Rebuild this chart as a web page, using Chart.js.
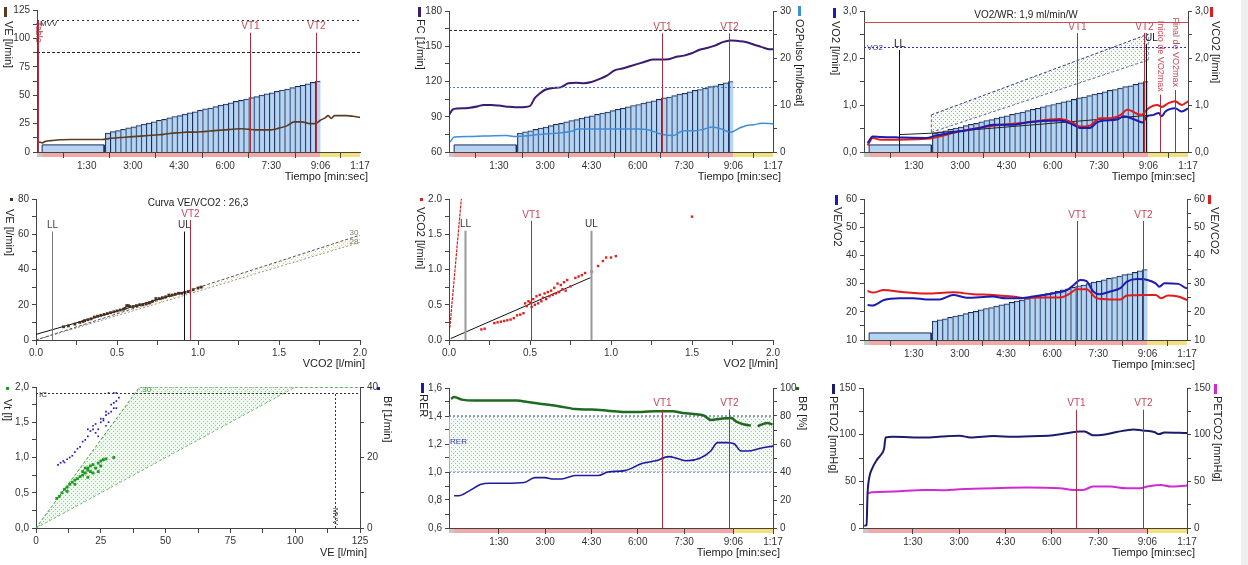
<!DOCTYPE html>
<html><head><meta charset="utf-8">
<script src="https://cdn.jsdelivr.net/npm/chart.js"></script>
<style>
html,body{margin:0;padding:0;background:#fff;}
body{width:1248px;height:565px;position:relative;overflow:hidden;}
#strip{position:absolute;left:1241px;top:0;width:7px;height:565px;background:#eeeeee;}
canvas{position:absolute;}
</style></head><body><div id="strip"></div>
<script>
// ================= DATA =================
const timeTickValues = [90,180,270,360,450,546,623];
const timeTickLabels = ['1:30','3:00','4:30','6:00','7:30','9:06','1:17'];
const phaseStarts = [-7,3,546];
const phaseEnds   = [3,546,623];
const vtTimes  = [408,537];
const vtLabels = ['VT1','VT2'];

// work-rate steps (W)
const warmupT = [3,124];
const warmupW = 15;
const loadT = [131,141,151,161,171,181,191,201,211,221,231,241,251,261,271,281,291,301,311,321,331,341,351,361,371,381,391,401,411,421,431,441,451,461,471,481,491,501,511,521,531,541];
const loadW = [40,43,45,48,51,53,56,59,61,64,67,69,72,75,77,80,83,85,88,91,93,96,99,101,104,107,109,112,115,117,120,123,125,128,131,133,136,139,141,144,147,150];

// Panel 1: VE
const veT = [-7,0,3,10,20,40,60,90,120,135,150,165,180,195,210,225,240,255,270,285,300,315,330,345,360,375,390,405,420,435,450,465,480,495,510,525,536,546,555,561,567,573,585,596,609,623];
const veV = [9,8.5,8,9.5,10,10.8,11,11,11,12,12.5,13,13.5,14,14.5,15,15.5,16.5,17,17.5,17.5,17.8,18.5,19,19.5,20,20.5,20,19.5,19.5,19.5,21,23,26.5,26.5,25,25,28,30,32,29.5,32,32,32,31.5,30.5];
const mvvLine = 116;
const veLimitLine = 88;
const tableMarkT = -6;

// Panel 2: FC and O2 pulse
const fcT = [-6,0,10,30,50,60,75,90,110,130,150,160,170,180,195,210,225,240,255,270,285,300,315,330,345,360,375,390,405,420,435,450,465,480,495,510,525,540,555,570,585,600,615,623];
const fcV = [92,96,97,97.5,99,100,100,99.5,98.5,98,99,106,110,113,114.5,115,118.5,119,118.5,119.5,122,125,129.5,131,133,135,137,138.8,138.8,139,141,142,144,147,148.5,150.5,153.5,155,154.5,153.7,151.5,149.5,147.5,147.5];
const o2pT = [-5,3,30,60,105,119,150,173,200,231,244,270,300,330,360,382,400,409,429,449,470,490,505,525,540,558,570,585,602,623];
const o2pV = [2.1,3.2,3.3,3.4,3.5,3.3,3.5,3.8,4.0,4.4,4.9,4.9,4.9,4.9,4.9,4.7,4.0,3.7,3.5,4.5,4.5,4.9,5.3,4.8,4.2,5.1,5.6,5.8,6.1,6.0];
const fcMaxLine = 164;
const o2pPredLine = 13.8;

// Panel 3: VO2 / VCO2
const vo2T = [0,10,26,60,114,133,180,218,244,283,309,341,374,400,413,432,446,459,485,498,519,535,543,556,566,572,579,598,611,623];
const vo2V = [0.19,0.33,0.32,0.31,0.30,0.35,0.44,0.51,0.58,0.58,0.63,0.66,0.67,0.58,0.51,0.51,0.63,0.67,0.69,0.76,0.69,0.63,0.76,0.79,0.83,0.76,0.86,0.93,0.86,0.93];
const vco2T = [0,10,26,114,180,244,309,374,400,413,432,452,472,492,505,532,546,563,572,585,598,611,623];
const vco2V = [0.14,0.30,0.26,0.28,0.44,0.56,0.63,0.70,0.62,0.54,0.56,0.72,0.72,0.79,0.90,0.79,0.93,1.00,0.96,1.04,1.08,1.00,1.08];
const vo2BandT  = [124,546];
const vo2BandHi = [0.79,2.51];
const vo2BandLo = [0.42,1.96];
const vo2TrendT = [61,124,546];
const vo2TrendV = [0.37,0.40,0.78];
const vo2WrLine = 2.77;
const vo2PeakLine = 2.24;
const llTime = 61, ulTime = 541, vo2maxStartT = 569, vo2maxEndT = 598;

// Panel 4: VE vs VCO2
const p4VCO2 = [0.17,0.20,0.24,0.27,0.29,0.30,0.32,0.34,0.36,0.38,0.40,0.42,0.44,0.46,0.48,0.50,0.52,0.54,0.55,0.56,0.57,0.58,0.60,0.62,0.64,0.66,0.68,0.70,0.72,0.74,0.76,0.78,0.80,0.82,0.84,0.86,0.88,0.90,0.92,0.94,0.97,1.00,1.02];
const p4VE   = [7.5,8,9,10,10.5,11,11.5,12,13,13.5,14,14.5,15,15.5,16,16.5,17,17.5,18,19.5,19.5,19,19,19.5,20,20,20.5,21,22,23.5,23.5,24,24.5,25.5,25.5,26,26.5,26.5,27,27.5,28.5,29.5,30];
const p4RegX = [0,0.92];
const p4RegY = [3.2,27.4];
const p4BandX = [0,2];
const p4BandHi = [0,59.5];
const p4BandLo = [0,55.5];
const p4LL = 0.1, p4UL = 0.916, p4VT2 = 0.953;

// Panel 5: VCO2 vs VO2
const p5VO2  = [0.20,0.22,0.28,0.30,0.32,0.34,0.36,0.38,0.40,0.42,0.44,0.46,0.47,0.48,0.49,0.50,0.51,0.52,0.53,0.54,0.55,0.56,0.57,0.58,0.59,0.60,0.61,0.62,0.63,0.64,0.65,0.66,0.67,0.68,0.69,0.70,0.71,0.72,0.73,0.75,0.78,0.80,0.82,0.84,0.88,0.92,0.95,0.97,1.00,1.03,1.50];
const p5VCO2 = [0.15,0.16,0.24,0.25,0.26,0.27,0.28,0.29,0.31,0.35,0.36,0.38,0.52,0.48,0.55,0.53,0.47,0.58,0.50,0.62,0.52,0.64,0.55,0.60,0.66,0.58,0.68,0.62,0.70,0.64,0.74,0.66,0.80,0.68,0.78,0.72,0.82,0.70,0.85,0.76,0.88,0.90,0.92,0.95,0.97,1.05,1.12,1.17,1.17,1.19,1.75];
const p5SteepX = [0.005,0.076];
const p5SteepY = [0.17,2.0];
const p5LineX = [0.01,0.874];
const p5LineY = [0.02,0.885];
const p5LL = 0.1, p5VT1 = 0.504, p5UL = 0.874;

// Panel 6: VE/VO2, VE/VCO2
const veqo2T = [0,10,32,63,89,115,141,167,193,244,270,296,322,363,389,402,415,427,440,453,473,493,506,526,546,562,569,579,606,619,623];
const veqo2V = [22.4,22.2,24.2,24.8,24.8,24.4,24.4,26,25,25.4,24.8,24.8,25.4,26.6,27.7,29.5,31.3,30.9,27.2,26.2,27.2,28.4,30.7,31.6,31.3,30.1,28.9,30.1,29.9,28.6,28.3];
const veqco2T = [0,10,32,63,115,167,206,244,283,309,335,376,395,408,427,447,473,493,506,540,562,572,586,606,623];
const veqco2V = [27.4,26.8,27.7,27.1,26.5,26.9,26.2,26,25.4,24.8,25.1,25.1,26.5,28,28,24.8,24.4,24.4,25.8,26,26,24.8,25.8,25.4,24.2];

// Panel 7: Vt and Bf vs VE
const vtVE = [8,9,10,11,12,13,14,15,16,17,18,19,20,20,21,22,23,24,25,26,27,22,24,25,30,20,18,15,12,19,21];
const vtV  = [0.42,0.45,0.5,0.55,0.58,0.62,0.65,0.68,0.7,0.73,0.75,0.78,0.82,0.85,0.88,0.9,0.85,0.92,0.95,0.97,0.98,0.78,0.8,0.88,1.0,0.72,0.8,0.62,0.52,0.85,0.8];
const bfVE = [8.5,9.5,10.5,11,12,13,14,15,16,17,18,19,20,20,21,22,22,23,24,25,25,26,27,27,28,28,29,30,30,31,31,32,30,29,26,24,23,27,28,31];
const bfV  = [17.9,18.5,19,18.6,19.5,20,20.5,21.5,22.5,23,24.5,25,26,28,27.5,28,29,27,28,30,31,31,29,32,32.5,30,33,34,35.5,34,36,37,38.3,35,30.5,26,29.5,33,38.3,38.3];
const p7BandAX = [0,40,125], p7BandAY = [0,2,2];
const p7BandBX = [0,100,125], p7BandBY = [0,2,2];
const icLine = 1.91, mvvVE = 115.4;

// Panel 8: RER and BR
const rerT = [3,12,30,54,71,104,139,160,180,193,212,238,264,283,302,335,368,395,421,434,455,482,502,515,535,548,561,574,599,623];
const rerV = [0.83,0.83,0.86,0.91,0.92,0.92,0.925,0.96,0.96,0.95,0.95,0.975,0.975,0.975,1.0,1.01,1.06,1.08,1.11,1.10,1.08,1.10,1.15,1.21,1.21,1.20,1.15,1.15,1.17,1.185];
const brT = [-3,3,18,42,71,125,146,173,206,238,270,302,335,368,395,428,448,468,488,502,522,542,551,567,580,586,593,612,622];
const brV = [92.2,93.6,91.7,91,91,91,90,88.6,87,85,84.6,83.8,82.9,82.9,83.4,83.4,82.2,81.5,80.5,77.2,78.1,78.6,76.2,73.9,73.2,null,72.7,75,73.9];
const rerBandT = [-7,623];
const rerBandHi = 1.4, rerBandLo = 1.0;

// Panel 9: PETO2 / PETCO2
const peto2T = [-4.5,0,1.7,4.8,11,20,30,34,37,51,114,146,181,202,247,285,336,363,389,415,424,440,460,486,519,536,559,569,579,623];
const peto2V = [2.5,3,35,53,64,73,80,85,97,97.7,97,98,98.8,97,98.5,97.7,98.5,99.4,101.5,103.5,103.5,99.4,100,102.8,105.6,104.5,102.8,100.6,102.4,101.7];
const petco2T = [1.7,11,51,114,146,181,247,311,376,402,421,440,473,506,532,546,572,592,623];
const petco2V = [37.2,38.3,39,40.8,40.5,41.5,42.6,43.3,42.6,40.8,40.8,44.4,44.4,42.6,42.6,44.4,46.2,44.4,45.5];

// ================= STYLE / LAYOUT =================
const FONT = "'Liberation Sans Narrow','Liberation Sans',Arial,sans-serif";
Chart.defaults.font.family = FONT;
Chart.defaults.font.size = 10;
Chart.defaults.color = '#333';
const PHASE_COLORS = ['#c8c8c8','#f0a9a6','#f3e07a'];
const VT_COLOR = '#a8303e', VT_LABEL = '#c84858';
const BAR_FILL = 'rgba(168,205,240,0.85)', BAR_EDGE = '#1a2a58';

const PANELS = {
  c1:{rect:[0,0,410,188],   area:[37,360,10,152]},
  c2:{rect:[410,0,418,188], area:[39,363,11,152]},
  c3:{rect:[828,0,413,188], area:[36,360,11,152]},
  c4:{rect:[0,188,410,190], area:[36,360,11,152]},
  c5:{rect:[410,188,418,190], area:[39,363,11,152]},
  c6:{rect:[828,188,413,190], area:[36,359,11,152]},
  c7:{rect:[0,378,410,187], area:[36,360,9,150]},
  c8:{rect:[410,378,418,187], area:[39,363,10,150]},
  c9:{rect:[828,378,413,187], area:[35,359,10,150]}
};

// ================= HELPERS =================
const xy = (xs, ys) => xs.map((x,i)=>({x, y: ys[i]}));
const isMult = (v,s) => Math.abs(v/s - Math.round(v/s)) < 1e-6;
const fInt = v => String(Math.round(v));
const fComma = v => v.toFixed(1).replace('.', ',');
const fDot = v => v.toFixed(1);

function dots(color, bg){
  const c = document.createElement('canvas'); c.width = 4; c.height = 4;
  const g = c.getContext('2d');
  if (bg){ g.fillStyle = bg; g.fillRect(0,0,4,4); }
  g.fillStyle = color; g.fillRect(1,1,1,1); g.fillRect(3,3,1,1);
  return g.createPattern(c,'repeat');
}

function yAxis(pos,min,max,step,every,fmt){
  return {type:'linear', position:pos, min, max,
    ticks:{stepSize:step, autoSkip:false, padding:3, color:'#333', font:{size:10}, callback:v=>isMult(v,every)?fmt(v):''},
    grid:{drawOnChartArea:false, tickLength:4, color:'#444'},
    border:{color:'#444'}};
}
function xAxis(min,max,step,every,fmt){
  return {type:'linear', position:'bottom', min, max,
    ticks:{stepSize:step, autoSkip:false, maxRotation:0, padding:2, color:'#333', font:{size:10}, callback:v=>isMult(v,every)?fmt(v):''},
    grid:{drawOnChartArea:false, tickLength:5, color:'#444'},
    border:{color:'#444'}};
}
function timeAxis(){
  return {type:'linear', position:'bottom', min:-7, max:623, offset:false,
    afterBuildTicks: s => { s.ticks = timeTickValues.map(v=>({value:v})); },
    ticks:{autoSkip:false, maxRotation:0, padding:2, color:'#333', font:{size:10}, callback:(v,i)=>timeTickLabels[i]},
    grid:{drawOnChartArea:false, tickLength:6, color:'#444'},
    border:{color:'#444'}};
}
const wAxis = () => ({type:'linear', display:false, min:0, max:300});

function lineDS(data, color, axis, w){
  return {type:'line', data, borderColor:color, backgroundColor:color, borderWidth:w||1.5, pointRadius:0,
    cubicInterpolationMode:'monotone', yAxisID:axis||'y', fill:false, order:1};
}
function straightDS(data, color, axis, w, dash, extra){
  return Object.assign({type:'line', data, borderColor:color, backgroundColor:'rgba(0,0,0,0)', borderWidth:w||1, borderDash:dash||[],
    pointRadius:0, tension:0, yAxisID:axis||'y', fill:false, order:3}, extra||{});
}
function pointsDS(data, color, axis, r){
  return {type:'line', data, showLine:false, pointStyle:'rect', pointRadius:r||1.5, pointBorderWidth:0,
    pointBackgroundColor:color, borderColor:color, backgroundColor:color, yAxisID:axis||'y', order:2};
}
function loadDatasets(){
  return [
    {type:'line', data:[{x:warmupT[0],y:0},{x:warmupT[0],y:warmupW},{x:warmupT[1],y:warmupW},{x:warmupT[1],y:0}],
      borderColor:BAR_EDGE, borderWidth:1, backgroundColor:BAR_FILL, fill:'origin', pointRadius:0, tension:0, yAxisID:'w', order:10},
    {type:'bar', data:xy(loadT, loadW), yAxisID:'w', backgroundColor:BAR_FILL, borderColor:BAR_EDGE,
      borderWidth:{left:1, top:1, right:0, bottom:0}, barPercentage:1, categoryPercentage:1, order:11}
  ];
}
function vtLines(y0,y1,axis){
  return vtTimes.map((t,i)=>({x:t, y0, y1, axis, color:VT_COLOR, label:vtLabels[i], labelColor:VT_LABEL}));
}

// ================= MARKS PLUGIN =================
const M = {};
function txt(c,s,x,y,color,size,align,base,rot){
  c.save(); c.translate(x,y); if (rot) c.rotate(Math.PI/2);
  c.fillStyle = color; c.font = size + 'px ' + FONT; c.textAlign = align; c.textBaseline = base;
  c.fillText(s,0,0); c.restore();
}
Chart.register({
  id:'marks',
  beforeDraw(ch){
    const m = M[ch.canvas.id]; if (!m || !m.phase) return;
    const c = ch.ctx, xs = ch.scales.x, a = ch.chartArea;
    c.save();
    for (let i=0;i<phaseStarts.length;i++){
      const x0 = xs.getPixelForValue(phaseStarts[i]), x1 = xs.getPixelForValue(phaseEnds[i]);
      c.fillStyle = PHASE_COLORS[i]; c.fillRect(x0, a.bottom+1, x1-x0, 4);
    }
    c.restore();
  },
  afterDatasetsDraw(ch){
    const m = M[ch.canvas.id]; if (!m) return;
    const c = ch.ctx, a = ch.chartArea, xs = ch.scales.x;
    (m.h||[]).forEach(h=>{
      const ys = ch.scales[h.axis||'y'];
      const py = Math.round(ys.getPixelForValue(h.y)) + 0.5;
      c.save(); c.strokeStyle = h.color; c.lineWidth = h.width||1; c.setLineDash(h.dash||[]);
      c.beginPath(); c.moveTo(a.left, py); c.lineTo(a.right, py); c.stroke(); c.restore();
      if (h.label) txt(c, h.label, a.left+3, py+(h.ly||0), h.labelColor||h.color, 8, 'left', 'middle');
    });
    (m.v||[]).forEach(v=>{
      const ys = ch.scales[v.axis||'y'];
      const px = Math.round(xs.getPixelForValue(v.x)) + 0.5;
      const p0 = ys.getPixelForValue(v.y0), p1 = ys.getPixelForValue(v.y1);
      c.save(); c.strokeStyle = v.color; c.lineWidth = v.width||1; c.setLineDash(v.dash||[]);
      c.beginPath(); c.moveTo(px, p0); c.lineTo(px, p1); c.stroke(); c.restore();
      if (v.label){
        const lc = v.labelColor||v.color, fs = v.size||10;
        if (v.rot==='above') txt(c, v.label, px, p1-3, lc, fs, 'right', 'middle', true);
        else if (v.rot==='over') txt(c, v.label, px, p1+1, lc, fs, 'left', 'middle', true);
        else if (v.rot==='bottom') txt(c, v.label, px, p0-3, lc, fs, 'right', 'middle', true);
        else txt(c, v.label, px+(v.dx||0), p1-1, lc, fs, 'center', 'bottom');
      }
    });
    (m.t||[]).forEach(t=>{
      const ys = ch.scales[t.axis||'y'];
      txt(c, t.text, xs.getPixelForValue(t.x), ys.getPixelForValue(t.y), t.color||'#222', t.size||10, t.align||'center', 'middle');
    });
  },
  afterDraw(ch){
    const m = M[ch.canvas.id]; if (!m || !m.titles) return;
    const c = ch.ctx, t = m.titles;
    [t.l, t.r].forEach(o=>{
      if (!o) return;
      if (o.mark){ c.fillStyle = o.mark.color; c.fillRect(o.mark.x, o.mark.y, o.mark.w, o.mark.h); }
      txt(c, o.text, o.x, o.y, '#222', 11, 'left', 'middle', true);
    });
    if (t.x) txt(c, t.x.text, t.x.x, t.x.y, '#222', 11, 'right', 'middle');
  }
});

function make(id, datasets, scales, marks){
  const p = PANELS[id]; const [x,y,w,h] = p.rect; const [L,R,T,B] = p.area;
  const c = document.createElement('canvas');
  c.id = id; c.width = w; c.height = h;
  c.style.left = x+'px'; c.style.top = y+'px'; c.style.width = w+'px'; c.style.height = h+'px';
  document.body.appendChild(c);
  M[id] = marks;
  scales.x.afterFit = s => { s.height = h - B; };
  scales.y.afterFit = s => { s.width = L; };
  const hasR = !!scales.y1;
  if (hasR) scales.y1.afterFit = s => { s.width = w - R; };
  return new Chart(c, {type:'line', data:{datasets}, options:{
    responsive:false, animation:false, devicePixelRatio:1,
    layout:{padding:{left:0, top:T, bottom:0, right: hasR ? 0 : w - R}},
    plugins:{legend:{display:false}, tooltip:{enabled:false}},
    elements:{point:{radius:0}},
    scales}});
}
const TIEMPO = 'Tiempo [min:sec]';

// ================= PANEL 1 =================
make('c1', [
  lineDS(xy(veT, veV), '#5b3b22', 'y', 1.6),
  ...loadDatasets()
], {x:timeAxis(), y:yAxis('left',0,125,12.5,25,fInt), w:wAxis()}, {
  phase:true,
  h:[{y:mvvLine, color:'#333', dash:[2,3], label:'MVV', ly:3},
     {y:veLimitLine, color:'#222', dash:[3,2]}],
  v:[{x:tableMarkT, y0:0, y1:mvvLine, color:'#b03040', label:'Table', rot:'over', size:9},
     ...vtLines(0,105)],
  titles:{l:{text:'VE [l/min]', x:8, y:21, mark:{x:4,y:7,w:3,h:10,color:'#5b3b22'}},
          x:{text:TIEMPO, x:368, y:177}}
});

// ================= PANEL 2 =================
make('c2', [
  lineDS(xy(fcT, fcV), '#3b1a70', 'y', 2),
  lineDS(xy(o2pT, o2pV), '#3c8fdc', 'y1', 1.5),
  ...loadDatasets()
], {x:timeAxis(), y:yAxis('left',60,180,15,30,fInt), y1:yAxis('right',0,30,5,10,fInt), w:wAxis()}, {
  phase:true,
  h:[{y:fcMaxLine, color:'#333', dash:[3,2]},
     {y:o2pPredLine, axis:'y1', color:'#4a7ec4', dash:[2,2]}],
  v:vtLines(60,161),
  titles:{l:{text:'FC [1/min]', x:10, y:19, mark:{x:8,y:7,w:3,h:10,color:'#3b1a70'}},
          r:{text:'O2Pulso [ml/beat]', x:389, y:19, mark:{x:388,y:6,w:3,h:10,color:'#3c8fdc'}},
          x:{text:TIEMPO, x:371, y:177}}
});

// ================= PANEL 3 =================
make('c3', [
  lineDS(xy(vo2T, vo2V), '#1c1cb0', 'y', 2),
  lineDS(xy(vco2T, vco2V), '#e01c1c', 'y1', 2),
  straightDS(xy(vo2BandT, vo2BandHi), '#303a80', 'y', 1, [3,2], {fill:'+1', backgroundColor:dots('#7dbf7d','rgba(240,250,240,0.5)')}),
  straightDS(xy(vo2BandT, vo2BandLo), '#303a80', 'y', 1, [3,2]),
  straightDS(xy([vo2BandT[0],vo2BandT[0]], [vo2BandLo[0],vo2BandHi[0]]), '#303a80', 'y', 1, [3,2]),
  straightDS(xy([vo2BandT[1],vo2BandT[1]], [vo2BandLo[1],vo2BandHi[1]]), '#6a8ad0', 'y', 1, [3,2]),
  straightDS(xy(vo2TrendT, vo2TrendV), '#222', 'y', 1),
  ...loadDatasets()
], {x:timeAxis(), y:yAxis('left',0,3,0.5,1,fComma), y1:yAxis('right',0,3,0.5,1,fComma), w:wAxis()}, {
  phase:true,
  h:[{y:vo2WrLine, color:'#d04848', width:1.2},
     {y:vo2PeakLine, color:'#3030c0', dash:[2,2], label:'VO2', labelColor:'#3030c0'}],
  v:[{x:llTime, y0:0, y1:2.17, color:'#111', label:'LL'},
     ...vtLines(0,2.53),
     {x:ulTime, y0:0, y1:2.3, color:'#111', label:'UL', dx:5},
     {x:vo2maxStartT, y0:0, y1:1.22, color:VT_COLOR, label:'Inicio de VO2max', labelColor:VT_LABEL, rot:'above', size:9},
     {x:vo2maxEndT, y0:0, y1:1.32, color:VT_COLOR, label:'Final de VO2max', labelColor:VT_LABEL, rot:'above', size:9}],
  t:[{x:308, y:2.915, text:'VO2/WR: 1,9 ml/min/W', size:10}],
  titles:{l:{text:'VO2 [l/min]', x:7, y:21, mark:{x:5,y:8,w:3,h:10,color:'#1c1cb0'}},
          r:{text:'VCO2 [l/min]', x:387, y:21, mark:{x:382,y:7,w:3,h:10,color:'#e01c1c'}},
          x:{text:TIEMPO, x:367, y:177}}
});

// ================= PANEL 4 =================
make('c4', [
  pointsDS(xy(p4VCO2, p4VE), '#4a3020', 'y', 2),
  straightDS(xy(p4RegX, p4RegY), '#111', 'y', 1),
  straightDS(xy(p4BandX, p4BandHi), '#555', 'y', 1, [3,2], {fill:'+1', backgroundColor:dots('#d6d2a6','rgba(250,249,235,0.6)')}),
  straightDS(xy(p4BandX, p4BandLo), '#776650', 'y', 1, [2,2])
], {x:xAxis(0,2,0.25,0.5,fDot), y:yAxis('left',0,80,10,20,fInt)}, {
  v:[{x:p4LL, y0:0, y1:61.5, color:'#777', label:'LL', labelColor:'#444'},
     {x:p4UL, y0:0, y1:61.5, color:'#111', label:'UL', labelColor:'#333'},
     {x:p4VT2, y0:0, y1:68, color:VT_COLOR, label:'VT2', labelColor:VT_LABEL}],
  t:[{x:1.0, y:77.5, text:'Curva VE/VCO2 : 26,3', size:10},
     {x:1.99, y:61, text:'30', size:8, color:'#8a7a66', align:'right'},
     {x:1.99, y:55.5, text:'28', size:8, color:'#8a7a66', align:'right'}],
  titles:{l:{text:'VE [l/min]', x:9, y:21, mark:{x:10,y:10,w:3,h:3,color:'#4a3020'}},
          x:{text:'VCO2 [l/min]', x:365, y:176}}
});

// ================= PANEL 5 =================
make('c5', [
  pointsDS(xy(p5VO2, p5VCO2), '#e02020', 'y', 1.7),
  straightDS(xy(p5SteepX, p5SteepY), '#d02020', 'y', 1.2, [3,1]),
  straightDS(xy(p5LineX, p5LineY), '#111', 'y', 1)
], {x:xAxis(0,2,0.25,0.5,fDot), y:yAxis('left',0,2,0.25,0.5,fDot)}, {
  v:[{x:p5LL, y0:0, y1:1.55, color:'#999', width:2, label:'LL', labelColor:'#333'},
     {x:p5VT1, y0:0, y1:1.69, color:VT_COLOR, label:'VT1', labelColor:VT_LABEL},
     {x:p5UL, y0:0, y1:1.55, color:'#999', width:2, label:'UL', labelColor:'#333'}],
  titles:{l:{text:'VCO2 [l/min]', x:10, y:19, mark:{x:10,y:10,w:3,h:3,color:'#e02020'}},
          x:{text:'VO2 [l/min]', x:368, y:176}}
});

// ================= PANEL 6 =================
make('c6', [
  lineDS(xy(veqo2T, veqo2V), '#1c1cb0', 'y', 2),
  lineDS(xy(veqco2T, veqco2V), '#e01c1c', 'y1', 2),
  ...loadDatasets()
], {x:timeAxis(), y:yAxis('left',10,60,5,10,fInt), y1:yAxis('right',10,60,5,10,fInt), w:wAxis()}, {
  phase:true,
  v:vtLines(10,52.2),
  titles:{l:{text:'VE/VO2', x:9, y:19, mark:{x:7,y:7,w:3,h:10,color:'#1c1cb0'}},
          r:{text:'VE/VCO2', x:386, y:19, mark:{x:380,y:7,w:3,h:9,color:'#e01c1c'}},
          x:{text:TIEMPO, x:367, y:177}}
});

// ================= PANEL 7 =================
make('c7', [
  pointsDS(xy(vtVE, vtV), '#1e9a1e', 'y', 2),
  pointsDS(xy(bfVE, bfV), '#1c1cc0', 'y1', 1.2),
  straightDS(xy(p7BandAX, p7BandAY), '#3a9a3a', 'y', 1, [3,2], {fill:'+1', backgroundColor:dots('#8ccc8c','rgba(232,248,232,0.7)')}),
  straightDS(xy(p7BandBX, p7BandBY), '#3a9a3a', 'y', 1, [3,2])
], {x:xAxis(0,125,12.5,25,fInt), y:yAxis('left',0,2,0.25,0.5,fComma), y1:yAxis('right',0,40,10,20,fInt)}, {
  h:[{y:icLine, color:'#333', dash:[2,2], label:'IC', ly:1}],
  v:[{x:mvvVE, y0:0, y1:icLine, color:'#333', dash:[2,2], label:'MVV', labelColor:'#333', rot:'bottom', size:8}],
  t:[{x:41, y:1.955, text:'30', size:8, color:'#3a9a3a', align:'left'}],
  titles:{l:{text:'Vt [l]', x:7, y:21, mark:{x:6,y:9,w:3,h:3,color:'#1e9a1e'}},
          r:{text:'Bf [1/min]', x:387, y:18, mark:{x:377,y:9,w:3,h:3,color:'#1c1cc0'}},
          x:{text:'VE [l/min]', x:367, y:175}}
});

// ================= PANEL 8 =================
make('c8', [
  lineDS(xy(rerT, rerV), '#1c1c9c', 'y', 1.6),
  lineDS(xy(brT, brV), '#1e6a1e', 'y1', 2.5),
  straightDS(xy(rerBandT, [rerBandHi, rerBandHi]), '#303a90', 'y', 1, [2,2], {fill:'+1', backgroundColor:dots('#8ccc8c','rgba(236,248,236,0.6)')}),
  straightDS(xy(rerBandT, [rerBandLo, rerBandLo]), '#303a90', 'y', 1, [2,2])
], {x:timeAxis(), y:yAxis('left',0.6,1.6,0.1,0.2,fComma), y1:yAxis('right',0,100,10,20,fInt)}, {
  phase:true,
  v:vtLines(0.6,1.446),
  t:[{x:-5, y:1.215, text:'RER', size:8, color:'#3a3ab0', align:'left'}],
  titles:{l:{text:'RER', x:13, y:16, mark:{x:11,y:5,w:3,h:10,color:'#1c1c9c'}},
          r:{text:'BR [%]', x:392, y:18, mark:{x:386,y:9,w:3,h:3,color:'#1e6a1e'}},
          x:{text:TIEMPO, x:370, y:175}}
});

// ================= PANEL 9 =================
make('c9', [
  lineDS(xy(peto2T, peto2V), '#1c1c6c', 'y', 2),
  lineDS(xy(petco2T, petco2V), '#d22ad2', 'y1', 2)
], {x:timeAxis(), y:yAxis('left',0,150,25,50,fInt), y1:yAxis('right',0,150,25,50,fInt)}, {
  phase:true,
  v:vtLines(0,126.7),
  titles:{l:{text:'PETO2 [mmHg]', x:5, y:18, mark:{x:4,y:6,w:3,h:10,color:'#1c1c6c'}},
          r:{text:'PETCO2 [mmHg]', x:389, y:18, mark:{x:386,y:6,w:3,h:10,color:'#d22ad2'}},
          x:{text:TIEMPO, x:367, y:175}}
});
</script>
</body></html>
